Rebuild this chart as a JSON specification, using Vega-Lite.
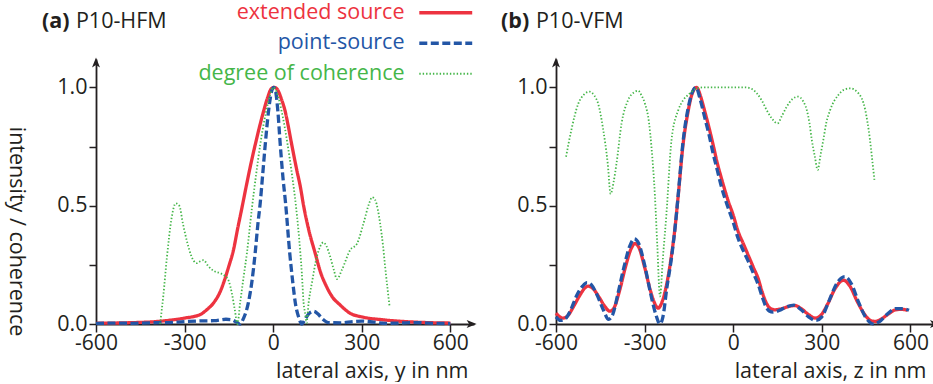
{
  "$schema": "https://vega.github.io/schema/vega-lite/v6.json",
  "padding": {"left": 4, "top": 2, "right": 0, "bottom": 0},
  "config": {
    "view": {"stroke": null},
    "font": "Open Sans",
    "axis": {"grid": false, "domainColor": "#231f20", "domainWidth": 1.8, "tickColor": "#231f20", "tickWidth": 1.5, "tickSize": 8, "labelFont": "Open Sans", "labelFontSize": 21, "labelColor": "#231f20", "titleFont": "Open Sans", "titleFontSize": 21.5, "titleFontWeight": "normal", "titleColor": "#231f20", "labelPadding": 0, "labelFlush": false, "labelOverlap": false}
  },
  "datasets": {
    "hfm": [
      {"s": "extended source", "x": -600, "v": 0.003}, {"s": "extended source", "x": -500, "v": 0.005}, {"s": "extended source", "x": -400, "v": 0.01}, {"s": "extended source", "x": -350, "v": 0.016}, {"s": "extended source", "x": -300, "v": 0.025}, {"s": "extended source", "x": -247, "v": 0.04}, {"s": "extended source", "x": -225, "v": 0.06}, {"s": "extended source", "x": -202, "v": 0.089}, {"s": "extended source", "x": -180, "v": 0.135}, {"s": "extended source", "x": -165, "v": 0.185}, {"s": "extended source", "x": -150, "v": 0.245}, {"s": "extended source", "x": -135, "v": 0.31}, {"s": "extended source", "x": -120, "v": 0.405}, {"s": "extended source", "x": -106, "v": 0.49}, {"s": "extended source", "x": -90, "v": 0.59}, {"s": "extended source", "x": -75, "v": 0.68}, {"s": "extended source", "x": -61, "v": 0.757}, {"s": "extended source", "x": -45, "v": 0.84}, {"s": "extended source", "x": -33, "v": 0.897}, {"s": "extended source", "x": -18, "v": 0.96}, {"s": "extended source", "x": -6, "v": 0.995}, {"s": "extended source", "x": 4, "v": 1.0}, {"s": "extended source", "x": 15, "v": 0.99}, {"s": "extended source", "x": 28, "v": 0.95}, {"s": "extended source", "x": 41, "v": 0.897}, {"s": "extended source", "x": 52, "v": 0.83}, {"s": "extended source", "x": 63, "v": 0.757}, {"s": "extended source", "x": 80, "v": 0.65}, {"s": "extended source", "x": 92, "v": 0.58}, {"s": "extended source", "x": 103, "v": 0.5}, {"s": "extended source", "x": 120, "v": 0.4}, {"s": "extended source", "x": 142, "v": 0.3}, {"s": "extended source", "x": 160, "v": 0.22}, {"s": "extended source", "x": 180, "v": 0.16}, {"s": "extended source", "x": 200, "v": 0.115}, {"s": "extended source", "x": 227, "v": 0.08}, {"s": "extended source", "x": 261, "v": 0.045}, {"s": "extended source", "x": 300, "v": 0.03}, {"s": "extended source", "x": 370, "v": 0.018}, {"s": "extended source", "x": 450, "v": 0.01}, {"s": "extended source", "x": 520, "v": 0.006}, {"s": "extended source", "x": 600, "v": 0.004},
      {"s": "point-source", "x": -600, "v": 0.002}, {"s": "point-source", "x": -540, "v": 0.004}, {"s": "point-source", "x": -480, "v": 0.003}, {"s": "point-source", "x": -420, "v": 0.005}, {"s": "point-source", "x": -360, "v": 0.006}, {"s": "point-source", "x": -300, "v": 0.01}, {"s": "point-source", "x": -250, "v": 0.013}, {"s": "point-source", "x": -200, "v": 0.014}, {"s": "point-source", "x": -160, "v": 0.02}, {"s": "point-source", "x": -140, "v": 0.018}, {"s": "point-source", "x": -125, "v": 0.008}, {"s": "point-source", "x": -112, "v": 0.0}, {"s": "point-source", "x": -100, "v": 0.025}, {"s": "point-source", "x": -84, "v": 0.09}, {"s": "point-source", "x": -72, "v": 0.18}, {"s": "point-source", "x": -61, "v": 0.3}, {"s": "point-source", "x": -52, "v": 0.42}, {"s": "point-source", "x": -44, "v": 0.51}, {"s": "point-source", "x": -35, "v": 0.64}, {"s": "point-source", "x": -27, "v": 0.757}, {"s": "point-source", "x": -16, "v": 0.897}, {"s": "point-source", "x": -6, "v": 0.98}, {"s": "point-source", "x": 2, "v": 1.0}, {"s": "point-source", "x": 8, "v": 0.985}, {"s": "point-source", "x": 16, "v": 0.897}, {"s": "point-source", "x": 24, "v": 0.757}, {"s": "point-source", "x": 33, "v": 0.62}, {"s": "point-source", "x": 42, "v": 0.51}, {"s": "point-source", "x": 56, "v": 0.3}, {"s": "point-source", "x": 66, "v": 0.18}, {"s": "point-source", "x": 75, "v": 0.089}, {"s": "point-source", "x": 86, "v": 0.03}, {"s": "point-source", "x": 97, "v": 0.0}, {"s": "point-source", "x": 108, "v": 0.02}, {"s": "point-source", "x": 122, "v": 0.045}, {"s": "point-source", "x": 137, "v": 0.054}, {"s": "point-source", "x": 152, "v": 0.042}, {"s": "point-source", "x": 168, "v": 0.02}, {"s": "point-source", "x": 187, "v": 0.006}, {"s": "point-source", "x": 230, "v": 0.005}, {"s": "point-source", "x": 270, "v": 0.01}, {"s": "point-source", "x": 300, "v": 0.012}, {"s": "point-source", "x": 340, "v": 0.008}, {"s": "point-source", "x": 380, "v": 0.003}, {"s": "point-source", "x": 430, "v": 0.004}, {"s": "point-source", "x": 480, "v": 0.006}, {"s": "point-source", "x": 540, "v": 0.003}, {"s": "point-source", "x": 600, "v": 0.002},
      {"s": "degree of coherence", "x": -383, "v": 0.0}, {"s": "degree of coherence", "x": -372, "v": 0.12}, {"s": "degree of coherence", "x": -360, "v": 0.28}, {"s": "degree of coherence", "x": -345, "v": 0.44}, {"s": "degree of coherence", "x": -330, "v": 0.51}, {"s": "degree of coherence", "x": -318, "v": 0.5}, {"s": "degree of coherence", "x": -305, "v": 0.42}, {"s": "degree of coherence", "x": -290, "v": 0.34}, {"s": "degree of coherence", "x": -278, "v": 0.29}, {"s": "degree of coherence", "x": -259, "v": 0.257}, {"s": "degree of coherence", "x": -247, "v": 0.265}, {"s": "degree of coherence", "x": -236, "v": 0.27}, {"s": "degree of coherence", "x": -220, "v": 0.245}, {"s": "degree of coherence", "x": -202, "v": 0.225}, {"s": "degree of coherence", "x": -180, "v": 0.215}, {"s": "degree of coherence", "x": -165, "v": 0.205}, {"s": "degree of coherence", "x": -150, "v": 0.18}, {"s": "degree of coherence", "x": -140, "v": 0.13}, {"s": "degree of coherence", "x": -130, "v": 0.06}, {"s": "degree of coherence", "x": -121, "v": 0.0}, {"s": "degree of coherence", "x": -112, "v": 0.089}, {"s": "degree of coherence", "x": -100, "v": 0.2}, {"s": "degree of coherence", "x": -89, "v": 0.3}, {"s": "degree of coherence", "x": -72, "v": 0.49}, {"s": "degree of coherence", "x": -58, "v": 0.63}, {"s": "degree of coherence", "x": -44, "v": 0.757}, {"s": "degree of coherence", "x": -24, "v": 0.897}, {"s": "degree of coherence", "x": -10, "v": 0.97}, {"s": "degree of coherence", "x": 0, "v": 1.0}, {"s": "degree of coherence", "x": 10, "v": 0.985}, {"s": "degree of coherence", "x": 29, "v": 0.897}, {"s": "degree of coherence", "x": 49, "v": 0.757}, {"s": "degree of coherence", "x": 63, "v": 0.637}, {"s": "degree of coherence", "x": 77, "v": 0.5}, {"s": "degree of coherence", "x": 92, "v": 0.3}, {"s": "degree of coherence", "x": 97, "v": 0.215}, {"s": "degree of coherence", "x": 103, "v": 0.089}, {"s": "degree of coherence", "x": 108, "v": 0.046}, {"s": "degree of coherence", "x": 113, "v": 0.005}, {"s": "degree of coherence", "x": 120, "v": 0.09}, {"s": "degree of coherence", "x": 131, "v": 0.173}, {"s": "degree of coherence", "x": 148, "v": 0.285}, {"s": "degree of coherence", "x": 160, "v": 0.33}, {"s": "degree of coherence", "x": 170, "v": 0.345}, {"s": "degree of coherence", "x": 180, "v": 0.33}, {"s": "degree of coherence", "x": 193, "v": 0.285}, {"s": "degree of coherence", "x": 205, "v": 0.23}, {"s": "degree of coherence", "x": 216, "v": 0.19}, {"s": "degree of coherence", "x": 233, "v": 0.23}, {"s": "degree of coherence", "x": 261, "v": 0.313}, {"s": "degree of coherence", "x": 284, "v": 0.34}, {"s": "degree of coherence", "x": 306, "v": 0.426}, {"s": "degree of coherence", "x": 325, "v": 0.51}, {"s": "degree of coherence", "x": 335, "v": 0.536}, {"s": "degree of coherence", "x": 345, "v": 0.525}, {"s": "degree of coherence", "x": 355, "v": 0.48}, {"s": "degree of coherence", "x": 362, "v": 0.426}, {"s": "degree of coherence", "x": 372, "v": 0.33}, {"s": "degree of coherence", "x": 379, "v": 0.243}, {"s": "degree of coherence", "x": 388, "v": 0.14}, {"s": "degree of coherence", "x": 394, "v": 0.075}
    ],
    "vfm": [
      {"s": "extended source", "x": -600, "v": 0.046}, {"s": "extended source", "x": -590, "v": 0.033}, {"s": "extended source", "x": -576, "v": 0.025}, {"s": "extended source", "x": -560, "v": 0.035}, {"s": "extended source", "x": -540, "v": 0.075}, {"s": "extended source", "x": -520, "v": 0.12}, {"s": "extended source", "x": -500, "v": 0.155}, {"s": "extended source", "x": -491, "v": 0.16}, {"s": "extended source", "x": -475, "v": 0.15}, {"s": "extended source", "x": -455, "v": 0.115}, {"s": "extended source", "x": -435, "v": 0.075}, {"s": "extended source", "x": -418, "v": 0.054}, {"s": "extended source", "x": -405, "v": 0.065}, {"s": "extended source", "x": -385, "v": 0.14}, {"s": "extended source", "x": -365, "v": 0.24}, {"s": "extended source", "x": -345, "v": 0.32}, {"s": "extended source", "x": -333, "v": 0.34}, {"s": "extended source", "x": -320, "v": 0.325}, {"s": "extended source", "x": -300, "v": 0.24}, {"s": "extended source", "x": -280, "v": 0.14}, {"s": "extended source", "x": -265, "v": 0.085}, {"s": "extended source", "x": -254, "v": 0.067}, {"s": "extended source", "x": -242, "v": 0.09}, {"s": "extended source", "x": -225, "v": 0.17}, {"s": "extended source", "x": -209, "v": 0.29}, {"s": "extended source", "x": -195, "v": 0.43}, {"s": "extended source", "x": -186, "v": 0.545}, {"s": "extended source", "x": -170, "v": 0.757}, {"s": "extended source", "x": -153, "v": 0.897}, {"s": "extended source", "x": -140, "v": 0.97}, {"s": "extended source", "x": -124, "v": 1.0}, {"s": "extended source", "x": -110, "v": 0.96}, {"s": "extended source", "x": -96, "v": 0.897}, {"s": "extended source", "x": -82, "v": 0.83}, {"s": "extended source", "x": -68, "v": 0.757}, {"s": "extended source", "x": -54, "v": 0.68}, {"s": "extended source", "x": -40, "v": 0.616}, {"s": "extended source", "x": -17, "v": 0.52}, {"s": "extended source", "x": 0, "v": 0.46}, {"s": "extended source", "x": 17, "v": 0.39}, {"s": "extended source", "x": 34, "v": 0.34}, {"s": "extended source", "x": 51, "v": 0.29}, {"s": "extended source", "x": 68, "v": 0.24}, {"s": "extended source", "x": 85, "v": 0.19}, {"s": "extended source", "x": 98, "v": 0.135}, {"s": "extended source", "x": 110, "v": 0.095}, {"s": "extended source", "x": 122, "v": 0.07}, {"s": "extended source", "x": 141, "v": 0.06}, {"s": "extended source", "x": 165, "v": 0.065}, {"s": "extended source", "x": 190, "v": 0.075}, {"s": "extended source", "x": 209, "v": 0.078}, {"s": "extended source", "x": 230, "v": 0.065}, {"s": "extended source", "x": 255, "v": 0.04}, {"s": "extended source", "x": 277, "v": 0.025}, {"s": "extended source", "x": 295, "v": 0.035}, {"s": "extended source", "x": 320, "v": 0.085}, {"s": "extended source", "x": 345, "v": 0.15}, {"s": "extended source", "x": 373, "v": 0.185}, {"s": "extended source", "x": 395, "v": 0.16}, {"s": "extended source", "x": 420, "v": 0.095}, {"s": "extended source", "x": 445, "v": 0.04}, {"s": "extended source", "x": 465, "v": 0.015}, {"s": "extended source", "x": 480, "v": 0.011}, {"s": "extended source", "x": 500, "v": 0.02}, {"s": "extended source", "x": 525, "v": 0.042}, {"s": "extended source", "x": 550, "v": 0.06}, {"s": "extended source", "x": 570, "v": 0.062}, {"s": "extended source", "x": 590, "v": 0.058},
      {"s": "point-source", "x": -600, "v": 0.03}, {"s": "point-source", "x": -585, "v": 0.015}, {"s": "point-source", "x": -570, "v": 0.02}, {"s": "point-source", "x": -550, "v": 0.06}, {"s": "point-source", "x": -530, "v": 0.12}, {"s": "point-source", "x": -510, "v": 0.16}, {"s": "point-source", "x": -495, "v": 0.175}, {"s": "point-source", "x": -480, "v": 0.165}, {"s": "point-source", "x": -460, "v": 0.12}, {"s": "point-source", "x": -440, "v": 0.06}, {"s": "point-source", "x": -422, "v": 0.02}, {"s": "point-source", "x": -408, "v": 0.04}, {"s": "point-source", "x": -390, "v": 0.13}, {"s": "point-source", "x": -370, "v": 0.24}, {"s": "point-source", "x": -350, "v": 0.33}, {"s": "point-source", "x": -335, "v": 0.36}, {"s": "point-source", "x": -320, "v": 0.34}, {"s": "point-source", "x": -300, "v": 0.25}, {"s": "point-source", "x": -280, "v": 0.13}, {"s": "point-source", "x": -262, "v": 0.04}, {"s": "point-source", "x": -248, "v": 0.0}, {"s": "point-source", "x": -238, "v": 0.03}, {"s": "point-source", "x": -225, "v": 0.15}, {"s": "point-source", "x": -209, "v": 0.28}, {"s": "point-source", "x": -195, "v": 0.43}, {"s": "point-source", "x": -186, "v": 0.55}, {"s": "point-source", "x": -170, "v": 0.77}, {"s": "point-source", "x": -153, "v": 0.91}, {"s": "point-source", "x": -140, "v": 0.975}, {"s": "point-source", "x": -126, "v": 1.0}, {"s": "point-source", "x": -112, "v": 0.95}, {"s": "point-source", "x": -96, "v": 0.87}, {"s": "point-source", "x": -82, "v": 0.8}, {"s": "point-source", "x": -68, "v": 0.72}, {"s": "point-source", "x": -54, "v": 0.65}, {"s": "point-source", "x": -40, "v": 0.58}, {"s": "point-source", "x": -17, "v": 0.49}, {"s": "point-source", "x": 0, "v": 0.43}, {"s": "point-source", "x": 17, "v": 0.36}, {"s": "point-source", "x": 34, "v": 0.31}, {"s": "point-source", "x": 51, "v": 0.265}, {"s": "point-source", "x": 68, "v": 0.215}, {"s": "point-source", "x": 85, "v": 0.165}, {"s": "point-source", "x": 98, "v": 0.115}, {"s": "point-source", "x": 110, "v": 0.075}, {"s": "point-source", "x": 122, "v": 0.055}, {"s": "point-source", "x": 135, "v": 0.05}, {"s": "point-source", "x": 155, "v": 0.057}, {"s": "point-source", "x": 180, "v": 0.072}, {"s": "point-source", "x": 205, "v": 0.08}, {"s": "point-source", "x": 230, "v": 0.06}, {"s": "point-source", "x": 255, "v": 0.03}, {"s": "point-source", "x": 280, "v": 0.015}, {"s": "point-source", "x": 300, "v": 0.03}, {"s": "point-source", "x": 325, "v": 0.1}, {"s": "point-source", "x": 350, "v": 0.17}, {"s": "point-source", "x": 378, "v": 0.2}, {"s": "point-source", "x": 400, "v": 0.17}, {"s": "point-source", "x": 425, "v": 0.09}, {"s": "point-source", "x": 450, "v": 0.025}, {"s": "point-source", "x": 475, "v": 0.0}, {"s": "point-source", "x": 495, "v": 0.01}, {"s": "point-source", "x": 520, "v": 0.04}, {"s": "point-source", "x": 550, "v": 0.065}, {"s": "point-source", "x": 575, "v": 0.065}, {"s": "point-source", "x": 595, "v": 0.058},
      {"s": "degree of coherence", "x": -566, "v": 0.707}, {"s": "degree of coherence", "x": -548, "v": 0.82}, {"s": "degree of coherence", "x": -525, "v": 0.93}, {"s": "degree of coherence", "x": -505, "v": 0.97}, {"s": "degree of coherence", "x": -487, "v": 0.982}, {"s": "degree of coherence", "x": -470, "v": 0.965}, {"s": "degree of coherence", "x": -457, "v": 0.93}, {"s": "degree of coherence", "x": -440, "v": 0.82}, {"s": "degree of coherence", "x": -425, "v": 0.68}, {"s": "degree of coherence", "x": -415, "v": 0.55}, {"s": "degree of coherence", "x": -405, "v": 0.6}, {"s": "degree of coherence", "x": -395, "v": 0.68}, {"s": "degree of coherence", "x": -378, "v": 0.848}, {"s": "degree of coherence", "x": -356, "v": 0.946}, {"s": "degree of coherence", "x": -335, "v": 0.98}, {"s": "degree of coherence", "x": -322, "v": 0.986}, {"s": "degree of coherence", "x": -310, "v": 0.965}, {"s": "degree of coherence", "x": -299, "v": 0.932}, {"s": "degree of coherence", "x": -285, "v": 0.85}, {"s": "degree of coherence", "x": -277, "v": 0.75}, {"s": "degree of coherence", "x": -265, "v": 0.54}, {"s": "degree of coherence", "x": -257, "v": 0.33}, {"s": "degree of coherence", "x": -248, "v": 0.117}, {"s": "degree of coherence", "x": -238, "v": 0.28}, {"s": "degree of coherence", "x": -226, "v": 0.468}, {"s": "degree of coherence", "x": -209, "v": 0.778}, {"s": "degree of coherence", "x": -186, "v": 0.904}, {"s": "degree of coherence", "x": -170, "v": 0.945}, {"s": "degree of coherence", "x": -153, "v": 0.968}, {"s": "degree of coherence", "x": -124, "v": 0.995}, {"s": "degree of coherence", "x": -100, "v": 1.0}, {"s": "degree of coherence", "x": 0, "v": 1.0}, {"s": "degree of coherence", "x": 40, "v": 1.0}, {"s": "degree of coherence", "x": 60, "v": 0.995}, {"s": "degree of coherence", "x": 80, "v": 0.975}, {"s": "degree of coherence", "x": 96, "v": 0.946}, {"s": "degree of coherence", "x": 115, "v": 0.9}, {"s": "degree of coherence", "x": 130, "v": 0.87}, {"s": "degree of coherence", "x": 150, "v": 0.848}, {"s": "degree of coherence", "x": 165, "v": 0.88}, {"s": "degree of coherence", "x": 181, "v": 0.918}, {"s": "degree of coherence", "x": 200, "v": 0.95}, {"s": "degree of coherence", "x": 220, "v": 0.961}, {"s": "degree of coherence", "x": 235, "v": 0.945}, {"s": "degree of coherence", "x": 249, "v": 0.904}, {"s": "degree of coherence", "x": 258, "v": 0.85}, {"s": "degree of coherence", "x": 266, "v": 0.778}, {"s": "degree of coherence", "x": 276, "v": 0.71}, {"s": "degree of coherence", "x": 286, "v": 0.651}, {"s": "degree of coherence", "x": 295, "v": 0.71}, {"s": "degree of coherence", "x": 305, "v": 0.778}, {"s": "degree of coherence", "x": 315, "v": 0.85}, {"s": "degree of coherence", "x": 328, "v": 0.904}, {"s": "degree of coherence", "x": 356, "v": 0.968}, {"s": "degree of coherence", "x": 375, "v": 0.99}, {"s": "degree of coherence", "x": 396, "v": 0.996}, {"s": "degree of coherence", "x": 424, "v": 0.975}, {"s": "degree of coherence", "x": 447, "v": 0.904}, {"s": "degree of coherence", "x": 463, "v": 0.778}, {"s": "degree of coherence", "x": 470, "v": 0.7}, {"s": "degree of coherence", "x": 478, "v": 0.609}
    ]
  },
  "spacing": 22,
  "resolve": {"scale": {"color": "independent", "strokeDash": "independent"}, "legend": {"color": "independent", "strokeDash": "independent"}},
  "hconcat": [
    {
      "width": 378,
      "height": 265,
      "layer": [
        {
          "data": {"name": "hfm"},
          "mark": {"type": "line", "interpolate": "monotone", "strokeJoin": "round"},
          "encoding": {
            "x": {"field": "x", "type": "quantitative", "scale": {"domain": [-600, 680], "nice": false, "zero": false},
              "axis": {"values": [-600, -300, 0, 300, 600], "labelExpr": "datum.value + ''", "title": "lateral axis, y in nm", "titleX": 372, "titleY": 53, "titleAlign": "right", "titleBaseline": "alphabetic", "titleAnchor": null}},
            "y": {"field": "v", "type": "quantitative", "scale": {"domain": [0, 1.12], "nice": false},
              "axis": {"values": [0, 0.25, 0.5, 0.75, 1], "labelExpr": "datum.value % 0.5 == 0 ? format(datum.value, '.1f') : ''", "title": "intensity / coherence", "titleAngle": 90, "titleX": -81, "titleY": 172, "titleAlign": "center", "titleBaseline": "middle", "tickSize": 7, "labelPadding": 2, "labelFontSize": 21.5}},
            "color": {"field": "s", "type": "nominal", "scale": {"domain": ["extended source", "point-source", "degree of coherence"], "range": ["#ED3340", "#2356A6", "#45B649"]},
              "legend": {"title": null, "orient": "none", "legendX": 339, "legendY": -57, "direction": "vertical", "symbolType": "stroke", "symbolSize": 2800, "symbolStrokeWidth": 3, "rowPadding": 7.5, "labelAlign": "right", "labelOffset": -52, "labelFontSize": 21.5, "labelFont": "Open Sans", "labelLimit": 400, "padding": 0, "offset": 0,
                "encode": {
                  "labels": {"update": {"fill": {"signal": "datum.value === 'extended source' ? '#ED3340' : (datum.value === 'point-source' ? '#2356A6' : '#45B649')"}}},
                  "symbols": {"update": {
                    "stroke": {"signal": "datum.value === 'extended source' ? '#ED3340' : (datum.value === 'point-source' ? '#2356A6' : '#45B649')"},
                    "strokeDash": {"signal": "datum.value === 'extended source' ? [1, 0] : (datum.value === 'point-source' ? [8, 3.5] : [1.4, 2])"},
                    "strokeWidth": {"signal": "datum.value === 'degree of coherence' ? 1.8 : 3.3"},
                    "opacity": {"value": 1},
                    "strokeOpacity": {"value": 1}
                  }}
                }}},
            "strokeDash": {"field": "s", "type": "nominal", "scale": {"domain": ["extended source", "point-source", "degree of coherence"], "range": [[1, 0], [8, 3.5], [1.4, 2]]},
              "legend": {"title": null, "orient": "none", "legendX": 339, "legendY": -57, "direction": "vertical", "symbolType": "stroke", "symbolSize": 2800, "symbolStrokeWidth": 3, "rowPadding": 7.5, "labelAlign": "right", "labelOffset": -52, "labelFontSize": 21.5, "labelFont": "Open Sans", "labelLimit": 400, "padding": 0, "offset": 0}},
            "strokeWidth": {"condition": {"test": "datum.s === 'degree of coherence'", "value": 1.8}, "value": 3.3}
          }
        },
        {
          "data": {"values": [{}]},
          "mark": {"type": "point", "shape": "M0,-1L0.8,1L0,0.5L-0.8,1Z", "filled": true, "color": "#231f20", "opacity": 1, "size": 100, "strokeWidth": 0},
          "encoding": {"x": {"datum": -600}, "y": {"datum": 1.105}}
        },
        {
          "data": {"values": [{}]},
          "mark": {"type": "point", "shape": "M1,0L-1,0.8L-0.5,0L-1,-0.8Z", "filled": true, "color": "#231f20", "opacity": 1, "size": 100, "strokeWidth": 0},
          "encoding": {"x": {"datum": 672}, "y": {"datum": 0}}
        },
        {
          "data": {"values": [{}]},
          "mark": {"type": "text", "text": "(a)", "fontWeight": "bold", "fontSize": 21.5, "font": "Open Sans", "align": "left", "baseline": "alphabetic", "color": "#231f20"},
          "encoding": {"x": {"datum": -783}, "y": {"datum": 1.249}}
        },
        {
          "data": {"values": [{}]},
          "mark": {"type": "text", "text": "P10-HFM", "fontSize": 21.5, "font": "Open Sans", "align": "left", "baseline": "alphabetic", "color": "#231f20"},
          "encoding": {"x": {"datum": -668}, "y": {"datum": 1.249}}
        }
      ]
    },
    {
      "width": 384,
      "height": 265,
      "layer": [
        {
          "data": {"name": "vfm"},
          "mark": {"type": "line", "interpolate": "monotone", "strokeJoin": "round"},
          "encoding": {
            "x": {"field": "x", "type": "quantitative", "scale": {"domain": [-600, 700], "nice": false, "zero": false},
              "axis": {"values": [-600, -300, 0, 300, 600], "labelExpr": "datum.value + ''", "title": "lateral axis, z in nm", "titleX": 370, "titleY": 53, "titleAlign": "right", "titleBaseline": "alphabetic", "titleAnchor": null}},
            "y": {"field": "v", "type": "quantitative", "scale": {"domain": [0, 1.12], "nice": false},
              "axis": {"values": [0, 0.25, 0.5, 0.75, 1], "labelExpr": "datum.value % 0.5 == 0 ? format(datum.value, '.1f') : ''", "title": null, "tickSize": 7, "labelPadding": 2, "labelFontSize": 21.5}},
            "color": {"field": "s", "type": "nominal", "scale": {"domain": ["extended source", "point-source", "degree of coherence"], "range": ["#ED3340", "#2356A6", "#45B649"]}, "legend": null},
            "strokeDash": {"field": "s", "type": "nominal", "scale": {"domain": ["extended source", "point-source", "degree of coherence"], "range": [[1, 0], [8, 3.5], [1.4, 2]]}, "legend": null},
            "strokeWidth": {"condition": {"test": "datum.s === 'degree of coherence'", "value": 1.8}, "value": 3.3}
          }
        },
        {
          "data": {"values": [{}]},
          "mark": {"type": "point", "shape": "M0,-1L0.8,1L0,0.5L-0.8,1Z", "filled": true, "color": "#231f20", "opacity": 1, "size": 100, "strokeWidth": 0},
          "encoding": {"x": {"datum": -600}, "y": {"datum": 1.105}}
        },
        {
          "data": {"values": [{}]},
          "mark": {"type": "point", "shape": "M1,0L-1,0.8L-0.5,0L-1,-0.8Z", "filled": true, "color": "#231f20", "opacity": 1, "size": 100, "strokeWidth": 0},
          "encoding": {"x": {"datum": 683}, "y": {"datum": 0}}
        },
        {
          "data": {"values": [{}]},
          "mark": {"type": "text", "text": "(b)", "fontWeight": "bold", "fontSize": 21.5, "font": "Open Sans", "align": "left", "baseline": "alphabetic", "color": "#231f20"},
          "encoding": {"x": {"datum": -786}, "y": {"datum": 1.249}}
        },
        {
          "data": {"values": [{}]},
          "mark": {"type": "text", "text": "P10-VFM", "fontSize": 21.5, "font": "Open Sans", "align": "left", "baseline": "alphabetic", "color": "#231f20"},
          "encoding": {"x": {"datum": -668}, "y": {"datum": 1.249}}
        }
      ]
    }
  ]
}
